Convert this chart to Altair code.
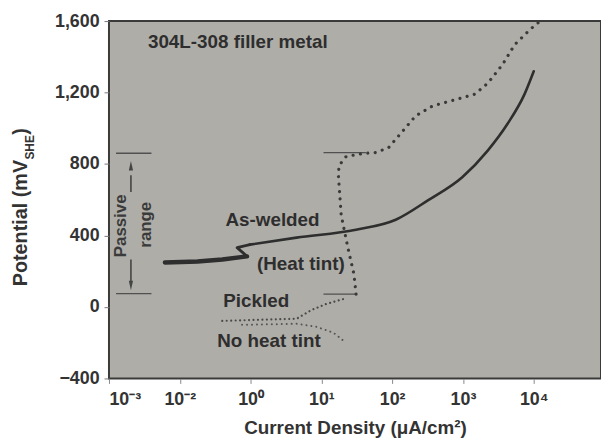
import altair as alt
import pandas as pd

# ---- axis ticks (x positions are decade-steps along the printed axis) ----
x_tick_values = [0, 1, 2, 3, 4, 5, 6]
x_tick_labels = ["10⁻³", "10⁻²", "10⁰", "10¹", "10²", "10³", "10⁴"]
y_tick_values = [-400, 0, 400, 800, 1200, 1600]
X_MAX = 6.95

# ---- curves ----
aswelded_x = [0.79, 1.25, 1.60, 1.95, 1.81, 1.99, 2.65, 3.49, 4.05, 4.51, 4.99, 5.35, 5.63, 5.87, 6.00]
aswelded_y = [249, 255, 266, 283, 332, 349, 388, 432, 488, 598, 726, 875, 1025, 1191, 1319]

heattint_x = [3.49, 3.46, 3.38, 3.28, 3.24, 3.25, 3.35, 3.59, 3.77, 3.95, 4.19, 4.33, 4.57, 4.92, 5.17, 5.35, 5.56, 5.73, 5.96, 6.08]
heattint_y = [72, 183, 321, 515, 737, 792, 842, 859, 864, 892, 1003, 1069, 1125, 1163, 1191, 1252, 1357, 1468, 1557, 1596]

pickled_x = [1.60, 2.09, 2.65, 2.86, 3.07, 3.31]
pickled_y = [-78, -72, -66, -17, 17, 44]

noheat_x = [1.88, 2.65, 2.93, 3.17, 3.31]
noheat_y = [-100, -94, -111, -144, -188]

# ---- passive-range markers ----
marker_x1 = [0.10, 0.10, 3.03, 3.03]
marker_x2 = [0.60, 0.60, 3.63, 3.49]
marker_y = [860, 75, 864, 72]

arrow_x = [0.31, 0.31]
arrow_y1 = [737, 266]
arrow_y2 = [643, 139]
arrowhead_y = [790, 120]
arrowhead_shape = ["M-0.45,1L0,-1L0.45,1Z", "M-0.45,-1L0,1L0.45,-1Z"]

# ---- annotations ----
ann_text = ["304L-308 filler metal", "As-welded", "(Heat tint)", "Pickled", "No heat tint"]
ann_x = [1.82, 2.31, 2.71, 2.08, 2.26]
ann_y = [1485, 488, 238, 33, -188]

rot_text = ["Passive", "range"]
rot_x = [0.17, 0.53]
rot_y = [454, 460]

ytitle_text = ["Potential (mV", "SHE", ")"]
ytitle_x = [-1.165, -1.055, -1.165]
ytitle_y = [116, 825, 964]
ytitle_size = [20, 12, 20]

INK = "#2e2e2e"
FONT = "Liberation Sans"


def df_line(xs, ys):
    return pd.DataFrame({"x": xs, "y": ys, "i": list(range(len(xs)))})


x_axis = alt.Axis(
    values=x_tick_values,
    labelExpr="[" + ",".join("'" + s + "'" for s in x_tick_labels) + "][datum.value]",
    title="Current Density (μA/cm²)",
    grid=False, domain=False, ticks=True, tickSize=5, tickColor="#888",
    labelFont=FONT, labelFontSize=18, labelFontWeight="bold", labelColor="#333",
    labelPadding=7,
    titleFont=FONT, titleFontSize=19, titleFontWeight="bold", titleColor="#333",
    titlePadding=11,
)
y_axis = alt.Axis(
    values=y_tick_values, format=",.0f", title=None,
    grid=False, domain=False, ticks=True, tickSize=5, tickColor="#777",
    labelFont=FONT, labelFontSize=18, labelFontWeight="bold", labelColor="#333",
    labelPadding=5,
)
xs = alt.Scale(domain=[0, X_MAX], nice=False, zero=False)
ys = alt.Scale(domain=[-400, 1600], nice=False, zero=False)


def X(f="x"):
    return alt.X(f"{f}:Q", scale=xs, axis=x_axis)


def Y(f="y"):
    return alt.Y(f"{f}:Q", scale=ys, axis=y_axis)


aswelded_df = df_line(aswelded_x, aswelded_y)
thick = alt.Chart(aswelded_df.iloc[:4]).mark_line(color=INK, strokeWidth=4.5, strokeCap="round").encode(
    x=X(), y=Y(), order="i:Q")
jag = alt.Chart(aswelded_df.iloc[3:6]).mark_line(color=INK, strokeWidth=2.8, strokeCap="round",
                                                  strokeJoin="round").encode(
    x=X(), y=Y(), order="i:Q")
tail = alt.Chart(aswelded_df.iloc[5:]).mark_line(color=INK, strokeWidth=2.6, strokeCap="round",
                                                  interpolate="monotone").encode(
    x=X(), y=Y(), order="i:Q")

heat = alt.Chart(df_line(heattint_x, heattint_y)).mark_line(
    color="#3a3a3a", strokeWidth=3.2, strokeCap="round", strokeDash=[0.01, 7.5]).encode(
    x=X(), y=Y(), order="i:Q")
pick = alt.Chart(df_line(pickled_x, pickled_y)).mark_line(
    color="#4a4a4a", strokeWidth=2.2, strokeCap="round", strokeDash=[0.01, 4.5]).encode(
    x=X(), y=Y(), order="i:Q")
noheat = alt.Chart(df_line(noheat_x, noheat_y)).mark_line(
    color="#555", strokeWidth=2.0, strokeCap="round", strokeDash=[0.01, 5]).encode(
    x=X(), y=Y(), order="i:Q")

markers = alt.Chart(pd.DataFrame({"x1": marker_x1, "x2": marker_x2, "y": marker_y})).mark_rule(
    color="#505050", strokeWidth=1.4).encode(x=X("x1"), x2="x2:Q", y=Y())

arrows = alt.Chart(pd.DataFrame({"x": arrow_x, "y1": arrow_y1, "y2": arrow_y2})).mark_rule(
    color="#444", strokeWidth=1.6).encode(x=X(), y=Y("y1"), y2="y2:Q")

heads = alt.layer(*[
    alt.Chart(pd.DataFrame({"x": [arrow_x[k]], "y": [arrowhead_y[k]]})).mark_point(
        shape=arrowhead_shape[k], filled=True, size=90, color="#444", opacity=1).encode(x=X(), y=Y())
    for k in range(2)
])

ann = alt.Chart(pd.DataFrame({"t": ann_text, "x": ann_x, "y": ann_y})).mark_text(
    font=FONT, fontSize=19, fontWeight="bold", color=INK, align="center", baseline="middle").encode(
    x=X(), y=Y(), text="t:N")

rot = alt.Chart(pd.DataFrame({"t": rot_text, "x": rot_x, "y": rot_y})).mark_text(
    font=FONT, fontSize=17, fontWeight="bold", color="#3a3a3a", align="center", baseline="middle",
    angle=270).encode(x=X(), y=Y(), text="t:N")

ytitle = alt.Chart(pd.DataFrame({"t": ytitle_text, "x": ytitle_x, "y": ytitle_y, "s": ytitle_size})).mark_text(
    font=FONT, fontWeight="bold", color="#333", align="left", baseline="alphabetic", angle=270).encode(
    x=X(), y=Y(), text="t:N", size=alt.Size("s:Q", scale=None, legend=None))

chart = alt.layer(markers, arrows, heads, pick, noheat, heat, thick, jag, tail, ann, rot, ytitle).properties(
    width=497, height=361,
    autosize=alt.AutoSizeParams(type="none"),
    padding={"left": 102, "top": 11, "right": 0, "bottom": 62},
    background="white",
).configure_view(fill="#aeada8", stroke="#3a3a3a", strokeWidth=2)

chart.save("out.html", embed_options={"renderer": "svg", "actions": False})
